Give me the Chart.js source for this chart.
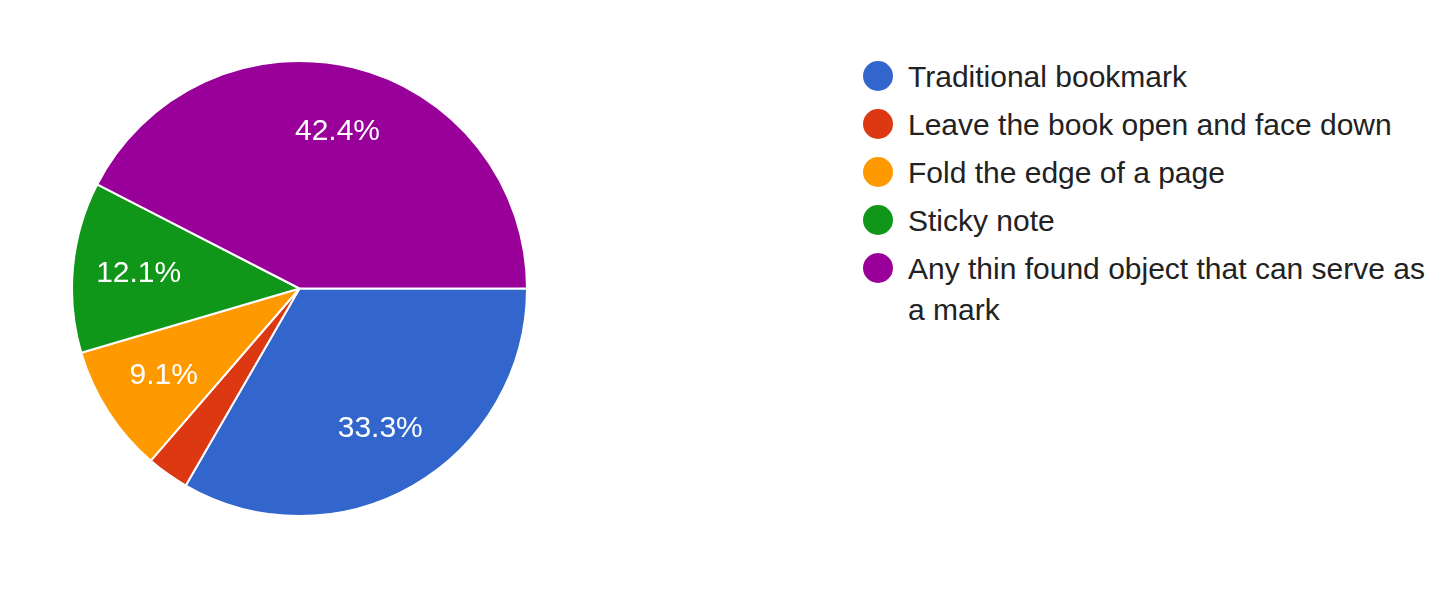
<!DOCTYPE html>
<html>
<head>
<meta charset="utf-8">
<script src="https://cdn.jsdelivr.net/npm/chart.js@4.4.0/dist/chart.umd.min.js"></script>
<style>
body{margin:0;background:#fff;width:1456px;height:599px;overflow:hidden;position:relative;font-family:"Liberation Sans",Arial,sans-serif;}
#pieWrap{position:absolute;left:71px;top:60px;width:457px;height:457px;}
#legend{position:absolute;left:863px;top:56px;width:580px;margin:0;padding:0;list-style:none;}
#legend li{position:relative;padding-left:45px;font-size:30px;line-height:41px;color:#222;margin-bottom:7px;}
#legend li span{position:absolute;left:0;top:5px;width:30px;height:30px;border-radius:50%;}
</style>
</head>
<body>

<div id="pieWrap"><canvas id="bookmarkPie"></canvas></div>
<ul id="legend"></ul>

<script>

// ================= DATA =================

const answers = [
"Traditional bookmark",
"Leave the book open and face down",
"Fold the edge of a page",
"Sticky note",
"Any thin found object that can serve as a mark"
];

const shares = [33.3, 3.0, 9.1, 12.1, 42.4];

const sliceColors = ["#3366cc", "#dc3912", "#ff9900", "#109618", "#990099"];


// ================= SLICE LABELS =================

const sliceLabels = {
id:"sliceLabels",
afterDatasetsDraw(chart){
const ctx = chart.ctx;
const meta = chart.getDatasetMeta(0);
ctx.save();
ctx.fillStyle = "#ffffff";
ctx.font = '30px "Liberation Sans", Arial, sans-serif';
ctx.textAlign = "center";
ctx.textBaseline = "middle";
meta.data.forEach((arc, i) => {
const v = shares[i];
if(v < 5) return;
const p = arc.getProps(["x","y","startAngle","endAngle","outerRadius"], true);
const mid = (p.startAngle + p.endAngle) / 2;
const r = p.outerRadius * 0.71;
ctx.fillText(v.toFixed(1) + "%", p.x + Math.cos(mid) * r, p.y + Math.sin(mid) * r);
});
ctx.restore();
}
};


// ================= PIE =================

const pieCanvas = document.getElementById("bookmarkPie");

new Chart(pieCanvas, {
type:"pie",
data:{
labels:answers,
datasets:[{
data:shares,
backgroundColor:sliceColors,
borderColor:"#ffffff",
borderWidth:2
}]
},
options:{
responsive:true,
maintainAspectRatio:false,
animation:false,
rotation:90,
layout:{padding:0},
plugins:{
legend:{display:false},
tooltip:{enabled:false}
}
},
plugins:[sliceLabels]
});


// ================= LEGEND =================

const legend = document.getElementById("legend");

answers.forEach((name, i) => {
const li = document.createElement("li");
const dot = document.createElement("span");
dot.style.background = sliceColors[i];
li.appendChild(dot);
li.appendChild(document.createTextNode(name));
legend.appendChild(li);
});

</script>
</body>
</html>
